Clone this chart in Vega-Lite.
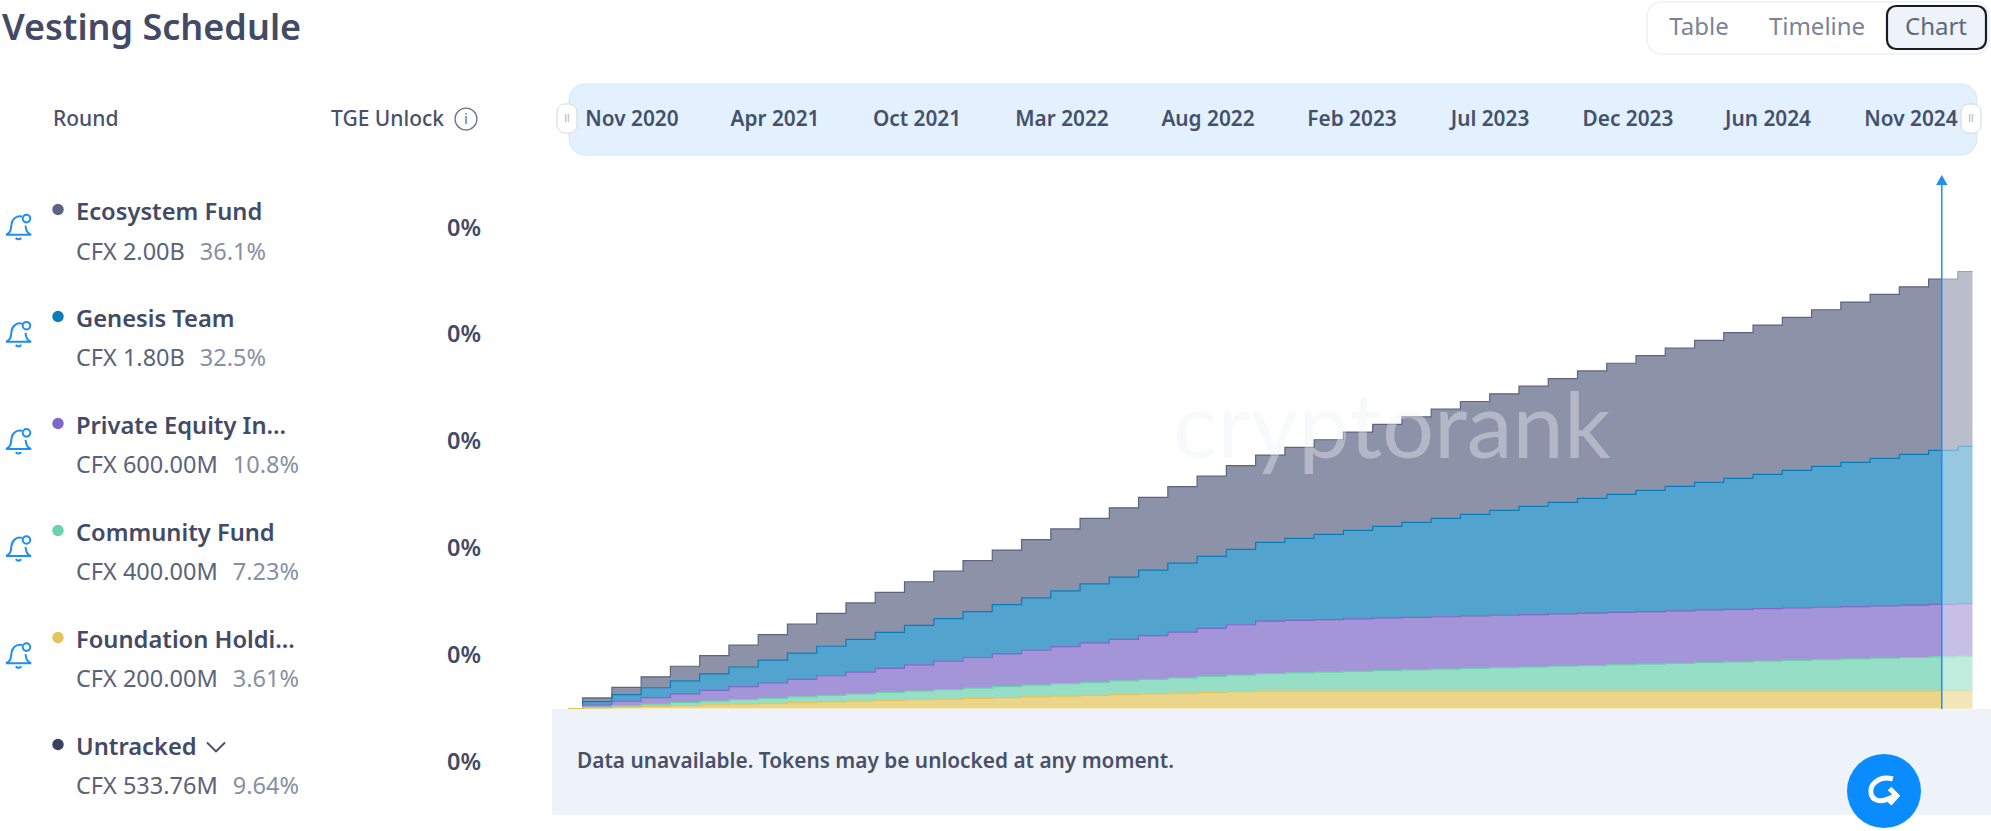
{"$schema":"https://vega.github.io/schema/vega-lite/v6.json","width":1991,"height":831,"padding":0,"autosize":{"type":"fit","contains":"padding"},"background":"white","view":{"stroke":null},"config":{"view":{"stroke":null},"axis":{"disable":true},"legend":{"disable":true},"text":{"font":"Noto Sans"}},
"datasets":{
"rounds":[{"round":"Ecosystem Fund","label":"Ecosystem Fund","rank":1,"amount":"CFX 2.00B","share":"36.1%","tge":"0%","tracked":true,"amountLength":"short"},{"round":"Genesis Team","label":"Genesis Team","rank":2,"amount":"CFX 1.80B","share":"32.5%","tge":"0%","tracked":true,"amountLength":"short"},{"round":"Private Equity","label":"Private Equity In...","rank":3,"amount":"CFX 600.00M","share":"10.8%","tge":"0%","tracked":true,"amountLength":"long"},{"round":"Community Fund","label":"Community Fund","rank":4,"amount":"CFX 400.00M","share":"7.23%","tge":"0%","tracked":true,"amountLength":"long"},{"round":"Foundation Holdings","label":"Foundation Holdi...","rank":5,"amount":"CFX 200.00M","share":"3.61%","tge":"0%","tracked":true,"amountLength":"long"},{"round":"Untracked","label":"Untracked","rank":6,"amount":"CFX 533.76M","share":"9.64%","tge":"0%","tracked":false,"amountLength":"long"}],
"ticks":[{"m":0,"label":"Nov 2020"},{"m":5,"label":"Apr 2021"},{"m":11,"label":"Oct 2021"},{"m":16,"label":"Mar 2022"},{"m":21,"label":"Aug 2022"},{"m":27,"label":"Feb 2023"},{"m":32,"label":"Jul 2023"},{"m":37,"label":"Dec 2023"},{"m":43,"label":"Jun 2024"},{"m":48,"label":"Nov 2024"}],
"months":[
{"m":0,"Ecosystem Fund":0,"Genesis Team":0,"Private Equity":0,"Community Fund":0,"Foundation Holdings":0},
{"m":1,"Ecosystem Fund":41.7,"Genesis Team":37.5,"Private Equity":25,"Community Fund":8.3,"Foundation Holdings":8.3},
{"m":2,"Ecosystem Fund":83.3,"Genesis Team":75,"Private Equity":50,"Community Fund":16.7,"Foundation Holdings":16.7},
{"m":3,"Ecosystem Fund":125,"Genesis Team":112.5,"Private Equity":75,"Community Fund":25,"Foundation Holdings":25},
{"m":4,"Ecosystem Fund":166.7,"Genesis Team":150,"Private Equity":100,"Community Fund":33.3,"Foundation Holdings":33.3},
{"m":5,"Ecosystem Fund":208.3,"Genesis Team":187.5,"Private Equity":125,"Community Fund":41.7,"Foundation Holdings":41.7},
{"m":6,"Ecosystem Fund":250,"Genesis Team":225,"Private Equity":150,"Community Fund":50,"Foundation Holdings":50},
{"m":7,"Ecosystem Fund":291.7,"Genesis Team":262.5,"Private Equity":175,"Community Fund":58.3,"Foundation Holdings":58.3},
{"m":8,"Ecosystem Fund":333.3,"Genesis Team":300,"Private Equity":200,"Community Fund":66.7,"Foundation Holdings":66.7},
{"m":9,"Ecosystem Fund":375,"Genesis Team":337.5,"Private Equity":225,"Community Fund":75,"Foundation Holdings":75},
{"m":10,"Ecosystem Fund":416.7,"Genesis Team":375,"Private Equity":250,"Community Fund":83.3,"Foundation Holdings":83.3},
{"m":11,"Ecosystem Fund":458.3,"Genesis Team":412.5,"Private Equity":275,"Community Fund":91.7,"Foundation Holdings":91.7},
{"m":12,"Ecosystem Fund":500,"Genesis Team":450,"Private Equity":300,"Community Fund":100,"Foundation Holdings":100},
{"m":13,"Ecosystem Fund":541.7,"Genesis Team":487.5,"Private Equity":325,"Community Fund":108.3,"Foundation Holdings":108.3},
{"m":14,"Ecosystem Fund":583.3,"Genesis Team":525,"Private Equity":350,"Community Fund":116.7,"Foundation Holdings":116.7},
{"m":15,"Ecosystem Fund":625,"Genesis Team":562.5,"Private Equity":375,"Community Fund":125,"Foundation Holdings":125},
{"m":16,"Ecosystem Fund":666.7,"Genesis Team":600,"Private Equity":400,"Community Fund":133.3,"Foundation Holdings":133.3},
{"m":17,"Ecosystem Fund":708.3,"Genesis Team":637.5,"Private Equity":425,"Community Fund":141.7,"Foundation Holdings":141.7},
{"m":18,"Ecosystem Fund":750,"Genesis Team":675,"Private Equity":450,"Community Fund":150,"Foundation Holdings":150},
{"m":19,"Ecosystem Fund":791.7,"Genesis Team":712.5,"Private Equity":475,"Community Fund":158.3,"Foundation Holdings":158.3},
{"m":20,"Ecosystem Fund":833.3,"Genesis Team":750,"Private Equity":500,"Community Fund":166.7,"Foundation Holdings":166.7},
{"m":21,"Ecosystem Fund":875,"Genesis Team":787.5,"Private Equity":525,"Community Fund":175,"Foundation Holdings":175},
{"m":22,"Ecosystem Fund":916.7,"Genesis Team":825,"Private Equity":550,"Community Fund":183.3,"Foundation Holdings":183.3},
{"m":23,"Ecosystem Fund":958.3,"Genesis Team":862.5,"Private Equity":575,"Community Fund":191.7,"Foundation Holdings":191.7},
{"m":24,"Ecosystem Fund":1000,"Genesis Team":900,"Private Equity":600,"Community Fund":200,"Foundation Holdings":200},
{"m":25,"Ecosystem Fund":1041.7,"Genesis Team":937.5,"Private Equity":600,"Community Fund":208.3,"Foundation Holdings":200},
{"m":26,"Ecosystem Fund":1083.3,"Genesis Team":975,"Private Equity":600,"Community Fund":216.7,"Foundation Holdings":200},
{"m":27,"Ecosystem Fund":1125,"Genesis Team":1012.5,"Private Equity":600,"Community Fund":225,"Foundation Holdings":200},
{"m":28,"Ecosystem Fund":1166.7,"Genesis Team":1050,"Private Equity":600,"Community Fund":233.3,"Foundation Holdings":200},
{"m":29,"Ecosystem Fund":1208.3,"Genesis Team":1087.5,"Private Equity":600,"Community Fund":241.7,"Foundation Holdings":200},
{"m":30,"Ecosystem Fund":1250,"Genesis Team":1125,"Private Equity":600,"Community Fund":250,"Foundation Holdings":200},
{"m":31,"Ecosystem Fund":1291.7,"Genesis Team":1162.5,"Private Equity":600,"Community Fund":258.3,"Foundation Holdings":200},
{"m":32,"Ecosystem Fund":1333.3,"Genesis Team":1200,"Private Equity":600,"Community Fund":266.7,"Foundation Holdings":200},
{"m":33,"Ecosystem Fund":1375,"Genesis Team":1237.5,"Private Equity":600,"Community Fund":275,"Foundation Holdings":200},
{"m":34,"Ecosystem Fund":1416.7,"Genesis Team":1275,"Private Equity":600,"Community Fund":283.3,"Foundation Holdings":200},
{"m":35,"Ecosystem Fund":1458.3,"Genesis Team":1312.5,"Private Equity":600,"Community Fund":291.7,"Foundation Holdings":200},
{"m":36,"Ecosystem Fund":1500,"Genesis Team":1350,"Private Equity":600,"Community Fund":300,"Foundation Holdings":200},
{"m":37,"Ecosystem Fund":1541.7,"Genesis Team":1387.5,"Private Equity":600,"Community Fund":308.3,"Foundation Holdings":200},
{"m":38,"Ecosystem Fund":1583.3,"Genesis Team":1425,"Private Equity":600,"Community Fund":316.7,"Foundation Holdings":200},
{"m":39,"Ecosystem Fund":1625,"Genesis Team":1462.5,"Private Equity":600,"Community Fund":325,"Foundation Holdings":200},
{"m":40,"Ecosystem Fund":1666.7,"Genesis Team":1500,"Private Equity":600,"Community Fund":333.3,"Foundation Holdings":200},
{"m":41,"Ecosystem Fund":1708.3,"Genesis Team":1537.5,"Private Equity":600,"Community Fund":341.7,"Foundation Holdings":200},
{"m":42,"Ecosystem Fund":1750,"Genesis Team":1575,"Private Equity":600,"Community Fund":350,"Foundation Holdings":200},
{"m":43,"Ecosystem Fund":1791.7,"Genesis Team":1612.5,"Private Equity":600,"Community Fund":358.3,"Foundation Holdings":200},
{"m":44,"Ecosystem Fund":1833.3,"Genesis Team":1650,"Private Equity":600,"Community Fund":366.7,"Foundation Holdings":200},
{"m":45,"Ecosystem Fund":1875,"Genesis Team":1687.5,"Private Equity":600,"Community Fund":375,"Foundation Holdings":200},
{"m":46,"Ecosystem Fund":1916.7,"Genesis Team":1725,"Private Equity":600,"Community Fund":383.3,"Foundation Holdings":200},
{"m":47,"Ecosystem Fund":1958.3,"Genesis Team":1762.5,"Private Equity":600,"Community Fund":391.7,"Foundation Holdings":200},
{"m":48,"Ecosystem Fund":2000,"Genesis Team":1800,"Private Equity":600,"Community Fund":400,"Foundation Holdings":200}
]},
"resolve":{"scale":{"x":"independent","y":"independent","color":"independent"}},
"layer":[
{"data":{"values":[{"part":"note panel"}]},"mark":{"type":"rect","fill":"#eef3fa"},"encoding":{"x":{"value":552},"x2":{"value":1991},"y":{"value":709},"y2":{"value":815}}},
{"data":{"name":"months"},"transform":[{"fold":["Ecosystem Fund","Genesis Team","Private Equity","Community Fund","Foundation Holdings"],"as":["round","tokens"]},{"lookup":"round","from":{"data":{"name":"rounds"},"key":"round","fields":["rank"]}}],
"mark":{"type":"area","interpolate":"step","fillOpacity":0.7,"line":{"strokeWidth":1.2}},
"encoding":{"x":{"field":"m","type":"quantitative","scale":{"domain":[0,48],"range":[568,1972.5],"zero":false,"nice":false}},"y":{"field":"tokens","type":"quantitative","stack":"zero","scale":{"domain":[0,5000],"range":[708.5,271.5],"nice":false}},"order":{"field":"rank","type":"quantitative","sort":"descending"},"color":{"field":"round","type":"nominal","scale":{"domain":["Ecosystem Fund","Genesis Team","Private Equity","Community Fund","Foundation Holdings"],"range":["#5b6482","#0a7cba","#7d68c8","#69d1ae","#e3c35a"]}}}},
{"data":{"values":[{"part":"future shade"}]},"mark":{"type":"rect","fill":"white","opacity":0.4},"encoding":{"x":{"datum":46.95,"type":"quantitative","scale":{"domain":[0,48],"range":[568,1972.5],"zero":false,"nice":false}},"x2":{"datum":48.05},"y":{"datum":0,"type":"quantitative","scale":{"domain":[0,5000],"range":[708.5,271.5],"nice":false}},"y2":{"datum":5020}}},
{"data":{"values":[{"label":"cryptorank"}]},"mark":{"type":"text","font":"Lato","fontWeight":400,"fontSize":92,"fill":"#f0f2f6","opacity":0.4,"align":"center","baseline":"middle"},"encoding":{"text":{"field":"label"},"x":{"value":1392},"y":{"value":430}}},
{"data":{"values":[{"part":"now"}]},"mark":{"type":"rule","stroke":"#1f8ef1","strokeWidth":1.5},"encoding":{"x":{"datum":46.95,"type":"quantitative","scale":{"domain":[0,48],"range":[568,1972.5],"zero":false,"nice":false}},"y":{"value":178},"y2":{"value":709}}},
{"data":{"values":[{"part":"now arrow"}]},"mark":{"type":"point","shape":"triangle-up","filled":true,"fill":"#1f8ef1","opacity":1,"size":130},"encoding":{"x":{"datum":46.95,"type":"quantitative","scale":{"domain":[0,48],"range":[568,1972.5],"zero":false,"nice":false}},"y":{"value":180}}},
{"data":{"values":[{"part":"timeline"}]},"mark":{"type":"rect","fill":"#e3f0fd","stroke":"#d6e6f6","cornerRadius":16},"encoding":{"x":{"value":569},"x2":{"value":1977},"y":{"value":84},"y2":{"value":155}}},
{"data":{"name":"ticks"},"mark":{"type":"text","fontSize":20.8,"fontWeight":600,"fill":"#44516e","align":"center","baseline":"middle"},"encoding":{"text":{"field":"label"},"x":{"field":"m","type":"quantitative","scale":{"domain":[0,5,11,16,21,27,32,37,43,48],"range":[632,775,917,1062,1208,1352,1490,1628,1768,1911],"zero":false,"nice":false}},"y":{"value":120}}},
{"data":{"values":[{"part":"left handle"}]},"mark":{"type":"rect","fill":"white","stroke":"#d4d7dd","cornerRadius":8},"encoding":{"x":{"value":557},"x2":{"value":577},"y":{"value":104},"y2":{"value":133}}},
{"data":{"values":[{"part":"right handle"}]},"mark":{"type":"rect","fill":"white","stroke":"#d4d7dd","cornerRadius":8},"encoding":{"x":{"value":1961},"x2":{"value":1981},"y":{"value":104},"y2":{"value":133}}},
{"data":{"values":[{"part":"left grip"}]},"mark":{"type":"point","shape":"M-0.35,-1L-0.35,1M0.35,-1L0.35,1","stroke":"#c3c7cf","strokeWidth":1.5,"size":64,"opacity":1},"encoding":{"x":{"value":567},"y":{"value":118}}},
{"data":{"values":[{"part":"right grip"}]},"mark":{"type":"point","shape":"M-0.35,-1L-0.35,1M0.35,-1L0.35,1","stroke":"#c3c7cf","strokeWidth":1.5,"size":64,"opacity":1},"encoding":{"x":{"value":1971},"y":{"value":118}}},
{"data":{"values":[{"part":"toggle"}]},"mark":{"type":"rect","fill":"white","stroke":"#eef0f5","strokeWidth":1.5,"cornerRadius":14},"encoding":{"x":{"value":1647},"x2":{"value":1989},"y":{"value":2},"y2":{"value":54}}},
{"data":{"values":[{"part":"toggle active"}]},"mark":{"type":"rect","fill":"#eef2f9","stroke":"#161b28","strokeWidth":2.2,"cornerRadius":9},"encoding":{"x":{"value":1887},"x2":{"value":1986},"y":{"value":6},"y2":{"value":49}}},
{"data":{"values":[{"label":"Table"}]},"mark":{"type":"text","fontSize":24,"fill":"#7a8497","align":"center","baseline":"middle"},"encoding":{"text":{"field":"label"},"x":{"value":1699},"y":{"value":28}}},
{"data":{"values":[{"label":"Timeline"}]},"mark":{"type":"text","fontSize":24,"fill":"#7a8497","align":"center","baseline":"middle"},"encoding":{"text":{"field":"label"},"x":{"value":1817},"y":{"value":28}}},
{"data":{"values":[{"label":"Chart"}]},"mark":{"type":"text","fontSize":24,"fill":"#5d6880","align":"center","baseline":"middle"},"encoding":{"text":{"field":"label"},"x":{"value":1936},"y":{"value":28}}},
{"data":{"values":[{"label":"Vesting Schedule"}]},"mark":{"type":"text","fontSize":36,"fontWeight":600,"fill":"#434a66","align":"left","baseline":"middle"},"encoding":{"text":{"field":"label"},"x":{"value":2},"y":{"value":29}}},
{"data":{"values":[{"label":"Round"}]},"mark":{"type":"text","fontSize":21,"fontWeight":500,"fill":"#4a5168","align":"left","baseline":"middle"},"encoding":{"text":{"field":"label"},"x":{"value":53},"y":{"value":120}}},
{"data":{"values":[{"label":"TGE Unlock"}]},"mark":{"type":"text","fontSize":21,"fontWeight":500,"fill":"#4a5168","align":"left","baseline":"middle"},"encoding":{"text":{"field":"label"},"x":{"value":331},"y":{"value":120}}},
{"data":{"values":[{"part":"info ring"}]},"mark":{"type":"point","shape":"circle","stroke":"#6b7488","strokeWidth":1.3,"size":480,"opacity":1},"encoding":{"x":{"value":466},"y":{"value":119}}},
{"data":{"values":[{"label":"i"}]},"mark":{"type":"text","fontSize":15,"fill":"#6b7488","align":"center","baseline":"middle"},"encoding":{"text":{"field":"label"},"x":{"value":466},"y":{"value":119}}},
{"data":{"name":"rounds"},"mark":{"type":"text","fontSize":23.7,"fontWeight":600,"fill":"#434a66","align":"left","baseline":"middle"},"encoding":{"text":{"field":"label"},"x":{"value":76},"y":{"field":"round","type":"nominal","sort":null,"scale":{"type":"point","padding":0,"domain":["Ecosystem Fund","Genesis Team","Private Equity","Community Fund","Foundation Holdings","Untracked"],"range":[213,747.5]}}}},
{"data":{"name":"rounds"},"mark":{"type":"text","fontSize":23.5,"fill":"#5b6378","align":"left","baseline":"middle","dy":39.5},"encoding":{"text":{"field":"amount"},"x":{"value":76},"y":{"field":"round","type":"nominal","sort":null,"scale":{"type":"point","padding":0,"domain":["Ecosystem Fund","Genesis Team","Private Equity","Community Fund","Foundation Holdings","Untracked"],"range":[213,747.5]}}}},
{"data":{"name":"rounds"},"transform":[{"filter":"datum.amountLength=='short'"}],"mark":{"type":"text","fontSize":23.5,"fill":"#8690a4","align":"right","baseline":"middle","dy":39.5},"encoding":{"text":{"field":"share"},"x":{"value":266},"y":{"field":"round","type":"nominal","sort":null,"scale":{"type":"point","padding":0,"domain":["Ecosystem Fund","Genesis Team","Private Equity","Community Fund","Foundation Holdings","Untracked"],"range":[213,747.5]}}}},
{"data":{"name":"rounds"},"transform":[{"filter":"datum.amountLength=='long'"}],"mark":{"type":"text","fontSize":23.5,"fill":"#8690a4","align":"right","baseline":"middle","dy":39.5},"encoding":{"text":{"field":"share"},"x":{"value":299},"y":{"field":"round","type":"nominal","sort":null,"scale":{"type":"point","padding":0,"domain":["Ecosystem Fund","Genesis Team","Private Equity","Community Fund","Foundation Holdings","Untracked"],"range":[213,747.5]}}}},
{"data":{"name":"rounds"},"mark":{"type":"text","fontSize":23.5,"fontWeight":600,"fill":"#434a66","align":"right","baseline":"middle","dy":15.5},"encoding":{"text":{"field":"tge"},"x":{"value":481},"y":{"field":"round","type":"nominal","sort":null,"scale":{"type":"point","padding":0,"domain":["Ecosystem Fund","Genesis Team","Private Equity","Community Fund","Foundation Holdings","Untracked"],"range":[213,747.5]}}}},
{"data":{"name":"rounds"},"mark":{"type":"point","filled":true,"shape":"circle","size":130,"opacity":1},"encoding":{"x":{"value":58},"y":{"field":"round","type":"nominal","sort":null,"scale":{"type":"point","padding":0,"domain":["Ecosystem Fund","Genesis Team","Private Equity","Community Fund","Foundation Holdings","Untracked"],"range":[209.5,744.5]}},"color":{"field":"round","type":"nominal","scale":{"domain":["Ecosystem Fund","Genesis Team","Private Equity","Community Fund","Foundation Holdings","Untracked"],"range":["#5b6482","#0a7cba","#7d68c8","#69d1ae","#e3c35a","#3b4260"]}}}},
{"data":{"name":"rounds"},"transform":[{"filter":"datum.tracked"}],"mark":{"type":"point","shape":"M-0.9,0.55C-0.5,0.4-0.55,0.1-0.5,-0.2C-0.45,-0.6-0.1,-0.85 0.25,-0.75M0.5,-0.1C0.55,0.2 0.55,0.4 0.9,0.55L-0.9,0.55M-0.2,0.78Q0,0.98 0.2,0.78M0.3,-0.6a0.27,0.27 0 1,0 0.54,0a0.27,0.27 0 1,0 -0.54,0","stroke":"#1f8ef1","strokeWidth":2,"size":784,"opacity":1},"encoding":{"x":{"value":18.5},"y":{"field":"round","type":"nominal","sort":null,"scale":{"type":"point","padding":0,"domain":["Ecosystem Fund","Genesis Team","Private Equity","Community Fund","Foundation Holdings"],"range":[227,655.5]}}}},
{"data":{"values":[{"part":"chevron"}]},"mark":{"type":"point","shape":"M-1,-0.5L0,0.5L1,-0.5","stroke":"#434a66","strokeWidth":1.8,"size":324,"opacity":1},"encoding":{"x":{"value":216},"y":{"value":747}}},
{"data":{"values":[{"label":"Data unavailable. Tokens may be unlocked at any moment."}]},"mark":{"type":"text","fontSize":20.8,"fontWeight":600,"fill":"#4a5068","align":"left","baseline":"middle"},"encoding":{"text":{"field":"label"},"x":{"value":577},"y":{"value":762}}},
{"data":{"values":[{"part":"logo"}]},"mark":{"type":"point","shape":"circle","filled":true,"fill":"#0a8cff","size":5476,"opacity":1},"encoding":{"x":{"value":1884},"y":{"value":791}}},
{"data":{"values":[{"part":"logo glyph"}]},"mark":{"type":"point","shape":"M0.55,-0.75C-0.3,-1-0.95,-0.4-0.8,0.2C-0.7,0.55-0.3,0.7 0.1,0.55L0.75,0.3M0.35,-0.15L0.8,0.3L0.35,0.8","stroke":"white","strokeWidth":5,"size":1024,"opacity":1},"encoding":{"x":{"value":1884},"y":{"value":791}}}
]}
